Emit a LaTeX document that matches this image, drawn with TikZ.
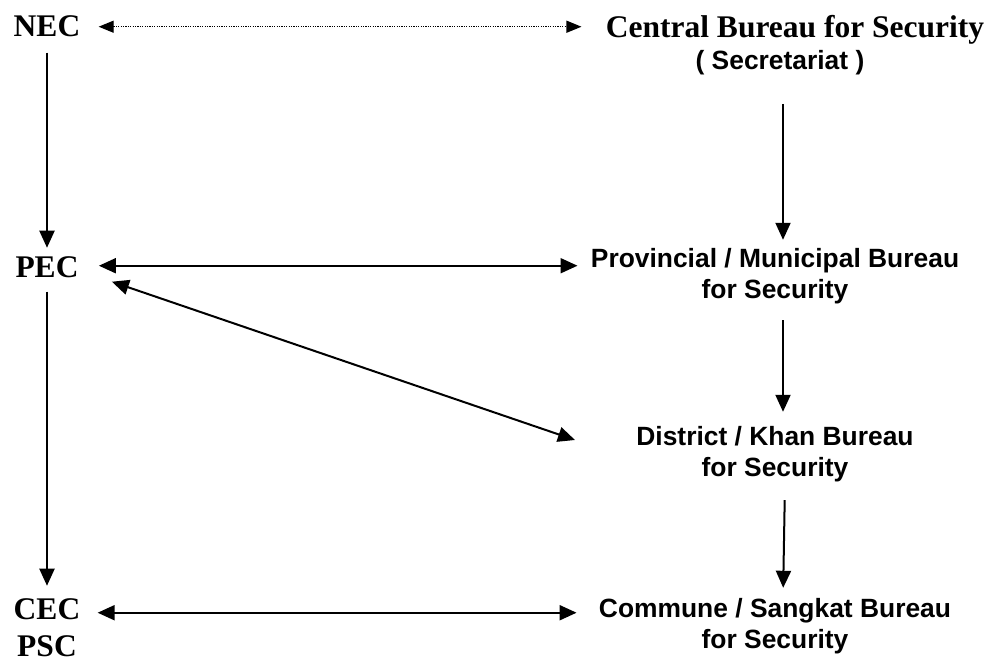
\documentclass[tikz,border=0pt]{standalone}
\usepackage{fontspec}
\setmainfont{Liberation Serif}
\newfontfamily\arialfont{Liberation Sans}
\usetikzlibrary{arrows.meta}
\begin{document}
\begin{tikzpicture}[x=0.5pt,y=-0.5pt,
  serifbox/.style={font=\fontsize{15.75}{18}\selectfont\bfseries, inner sep=0pt, anchor=base},
  sansbox/.style={font=\arialfont\bfseries\fontsize{13.2}{15.5}\selectfont, inner sep=0pt, align=center},
  tip/.tip={Triangle[length=8.5pt,width=7.5pt]},
  smalltip/.tip={Triangle[length=7.5pt,width=6pt]},
  arr/.style={-tip, line width=1pt},
  darr/.style={tip-tip, line width=1pt},
  dotarr/.style={smalltip-smalltip, line width=0.6pt, dash pattern=on 0.6pt off 0.6pt}]
\useasboundingbox (0,0) rectangle (994,662);
\node[serifbox] (nec) at (47,37) {NEC};
\node[serifbox] (cent) at (795,38) {Central Bureau for Security};
\node[sansbox, anchor=base] (sec) at (780,70) {( Secretariat )};
\node[serifbox] (pec) at (47,278) {PEC};
\node[sansbox] (prov) at (775,276) {Provincial / Municipal Bureau\\for Security};
\node[sansbox] (dist) at (775,454) {District / Khan Bureau\\for Security};
\node[serifbox] (cec) at (47,619) {CEC};
\node[serifbox] (psc) at (47,656) {PSC};
\node[sansbox] (comm) at (775,626) {Commune / Sangkat Bureau\\for Security};
% connectors
\draw[dotarr, shorten <=9pt, shorten >=12pt] (nec.east) -- (nec.east -| cent.west);
\draw[arr, shorten <=7.5pt, shorten >=4.5pt] (nec.south) -- (pec.north);
\draw[arr, shorten <=14pt, shorten >=4pt] ([xshift=1.5pt]sec.south) -- ([xshift=4pt]prov.north);
\draw[darr, shorten <=10pt, shorten >=6.5pt] ([yshift=1pt]pec.east) -- ([yshift=1pt]pec.east -| prov.west);
\draw[darr] ([shift={(33,3)}]pec.south east) -- ([shift={(-61,-14)}]dist.west);
\draw[arr, shorten <=8pt, shorten >=7pt] ([xshift=4pt]prov.south) -- ([xshift=4pt]dist.north);
\draw[arr, shorten <=9pt, shorten >=5pt] ([xshift=5pt]dist.south) -- ([xshift=4pt]comm.north);
\draw[arr, shorten <=6.5pt, shorten >=6pt] (pec.south) -- (cec.north);
\draw[darr, shorten <=8.5pt, shorten >=11pt] ([yshift=-2pt]cec.east) -- ([yshift=-2pt]cec.east -| comm.west);
\end{tikzpicture}
\end{document}
